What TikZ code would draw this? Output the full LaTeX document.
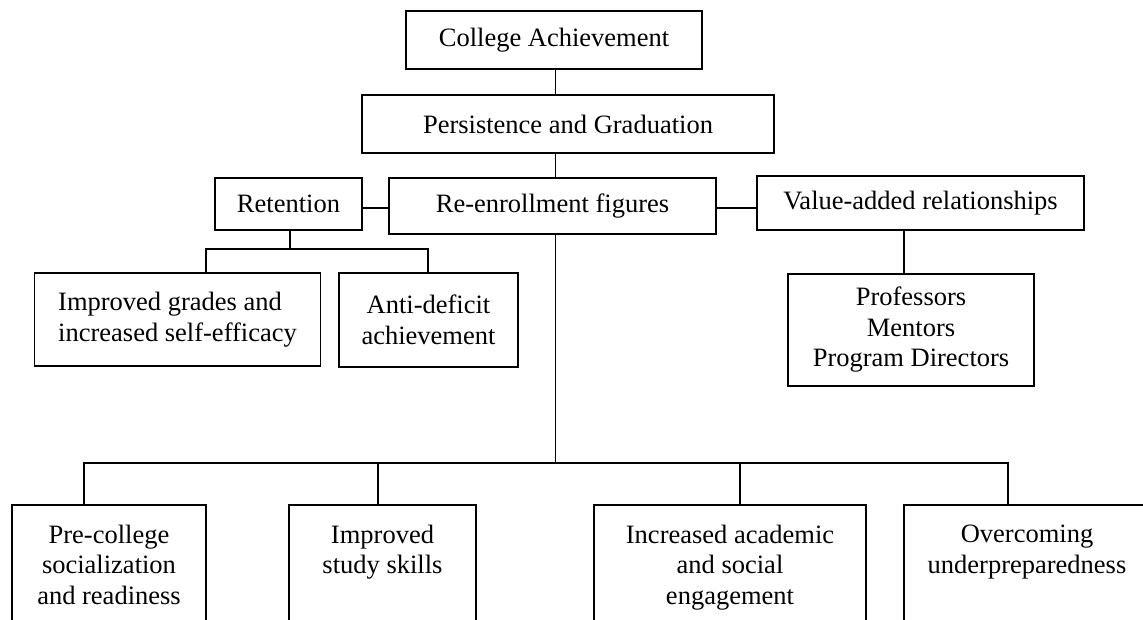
\documentclass[tikz,border=0pt]{standalone}
\usepackage{fontspec}
\setmainfont{Liberation Serif}
\begin{document}
\begin{tikzpicture}[x=1pt,y=-1pt,
  line width=1.9pt,
  diafont/.style={font=\fontsize{26.5pt}{30.5pt}\selectfont},
  box/.style={draw, line width=1.9pt, inner sep=0pt, align=center, diafont},
  txt/.style={inner sep=0pt, align=center, anchor=north, diafont}]
\useasboundingbox (0,0) rectangle (1143,619);
\clip (0,0) rectangle (1143,619);
% top chain
\node[box, minimum width=296pt, minimum height=58pt] (col) at (554,40) {College Achievement};
\node[box, minimum width=412pt, minimum height=58pt] (per) at (568,124) {Persistence and Graduation};
\node[box, minimum width=147pt, minimum height=52pt] (ret) at (288.5,204) {Retention};
\node[box, minimum width=327pt, minimum height=56pt] (ren) at (552.5,206) {Re-enrollment figures};
\node[box, minimum width=327pt, minimum height=54pt] (val) at (920.5,203) {Value-added relationships};
\node[box, minimum width=246pt, minimum height=112pt] (prof) at (911,330) {Professors\\Mentors\\Program Directors};
\node[box, minimum width=286pt, minimum height=93pt, align=left] (grades) at (177.5,319.5) {Improved grades and\\increased self-efficacy};
\node[box, minimum width=179pt, minimum height=94pt] (anti) at (428.5,320) {Anti-deficit\\achievement};
% bottom boxes (run off the page)
\node[box, minimum width=194pt, minimum height=145pt] (pre) at (109,577.5) {};
\node[box, minimum width=187pt, minimum height=145pt] (stud) at (382.5,577.5) {};
\node[box, minimum width=272pt, minimum height=145pt] (incr) at (730,577.5) {};
\node[box, minimum width=246pt, minimum height=145pt] (over) at (1027,577.5) {};
\node[txt] (pret) at (109,524) {Pre-college\\socialization\\and readiness};
\node[txt] (studt) at (382.5,524) {Improved\\study skills};
\node[txt] (incrt) at (730,524) {Increased academic\\and social\\engagement};
\node[txt] (overt) at (1027,524) {Overcoming\\underpreparedness};
% helper coordinates
\coordinate (vx) at (555.5,0);
\coordinate (hy) at (0,208);
\coordinate (px) at (904,0);
\coordinate (rb) at (290,249);
\coordinate (gx) at (206,0);
\coordinate (ax) at (428,0);
\coordinate (bus) at (555.5,463);
\coordinate (b1) at (84,0);
\coordinate (b2) at (378,0);
\coordinate (b3) at (740,0);
\coordinate (b4) at (1008,0);
% connectors
\draw (vx |- col.south) -- (vx |- per.north);
\draw (vx |- per.south) -- (vx |- ren.north);
\draw (ret.east |- hy) -- (ren.west |- hy);
\draw (ren.east |- hy) -- (val.west |- hy);
\draw (px |- val.south) -- (px |- prof.north);
\draw (rb |- ret.south) -- (rb);
\draw (gx |- grades.north) -- (gx |- rb) -- (ax |- rb) -- (ax |- anti.north);
\draw (vx |- ren.south) -- (bus);
\draw (b1 |- pre.north) -- (b1 |- bus) -- (b4 |- bus) -- (b4 |- over.north);
\draw (b2 |- bus) -- (b2 |- stud.north);
\draw (b3 |- bus) -- (b3 |- incr.north);
\end{tikzpicture}
\end{document}
